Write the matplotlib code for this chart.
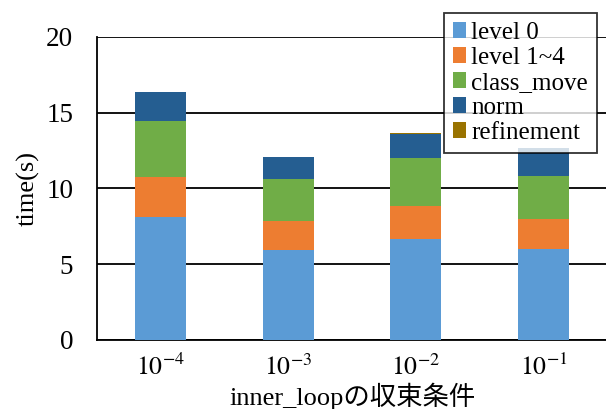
import numpy as np
import matplotlib
matplotlib.use("Agg")
from matplotlib import pyplot as plt

plt.rcParams['font.family'] = ['Liberation Serif', 'Noto Sans CJK JP']
plt.rcParams['mathtext.fontset'] = 'stix'

categories = [r'$10^{-4}$', r'$10^{-3}$', r'$10^{-2}$', r'$10^{-1}$']
level0 = [8.12, 5.94, 6.67, 6.00]
level1_4 = [2.64, 1.91, 2.17, 1.99]
class_move = [3.70, 2.78, 3.17, 2.84]
norm = [1.91, 1.45, 1.59, 1.80]
refinement = [0.02, 0.02, 0.02, 0.02]

series = [
    ("level 0", level0, "#5B9BD5"),
    ("level 1~4", level1_4, "#ED7D31"),
    ("class_move", class_move, "#70AD47"),
    ("norm", norm, "#255E91"),
    ("refinement", refinement, "#997300"),
]

fig = plt.figure(figsize=(6.06, 4.09), dpi=100)
ax = fig.add_axes([0.160, 0.169, 0.842, 0.741])

x = np.arange(len(categories))
bottom = np.zeros(len(categories))
for name, vals, col in series:
    ax.bar(x, vals, 0.4, bottom=bottom, color=col, label=name, zorder=3)
    bottom += np.array(vals)

ax.set_xlim(-0.5, 3.5)
ax.set_ylim(0, 20)
ax.set_yticks([0, 5, 10, 15, 20])
ax.set_xticks(x)
ax.set_xticklabels(categories)
ax.tick_params(axis='y', length=0, labelsize=19.5, pad=17)
ax.tick_params(axis='x', length=0, labelsize=18.5, pad=10)
ax.grid(axis='y', color='black', linewidth=1.3, zorder=0)
for s in ['top', 'right']:
    ax.spines[s].set_visible(False)
ax.spines['left'].set_linewidth(1.3)
ax.spines['bottom'].set_linewidth(1.3)

ax.set_ylabel('time(s)', fontsize=19, labelpad=5)
ax.set_xlabel('inner_loopの収束条件', fontsize=19, labelpad=2)

leg = fig.legend(loc='upper right', bbox_to_anchor=(0.985, 0.968), fontsize=18,
                 frameon=True, fancybox=False, edgecolor='black',
                 handlelength=0.55, handleheight=0.55, handletextpad=0.2,
                 labelspacing=0.12, borderpad=0.35, borderaxespad=0)
leg.get_frame().set_linewidth(1.3)
leg.set_zorder(5)

fig.savefig('out.png', dpi=100)
